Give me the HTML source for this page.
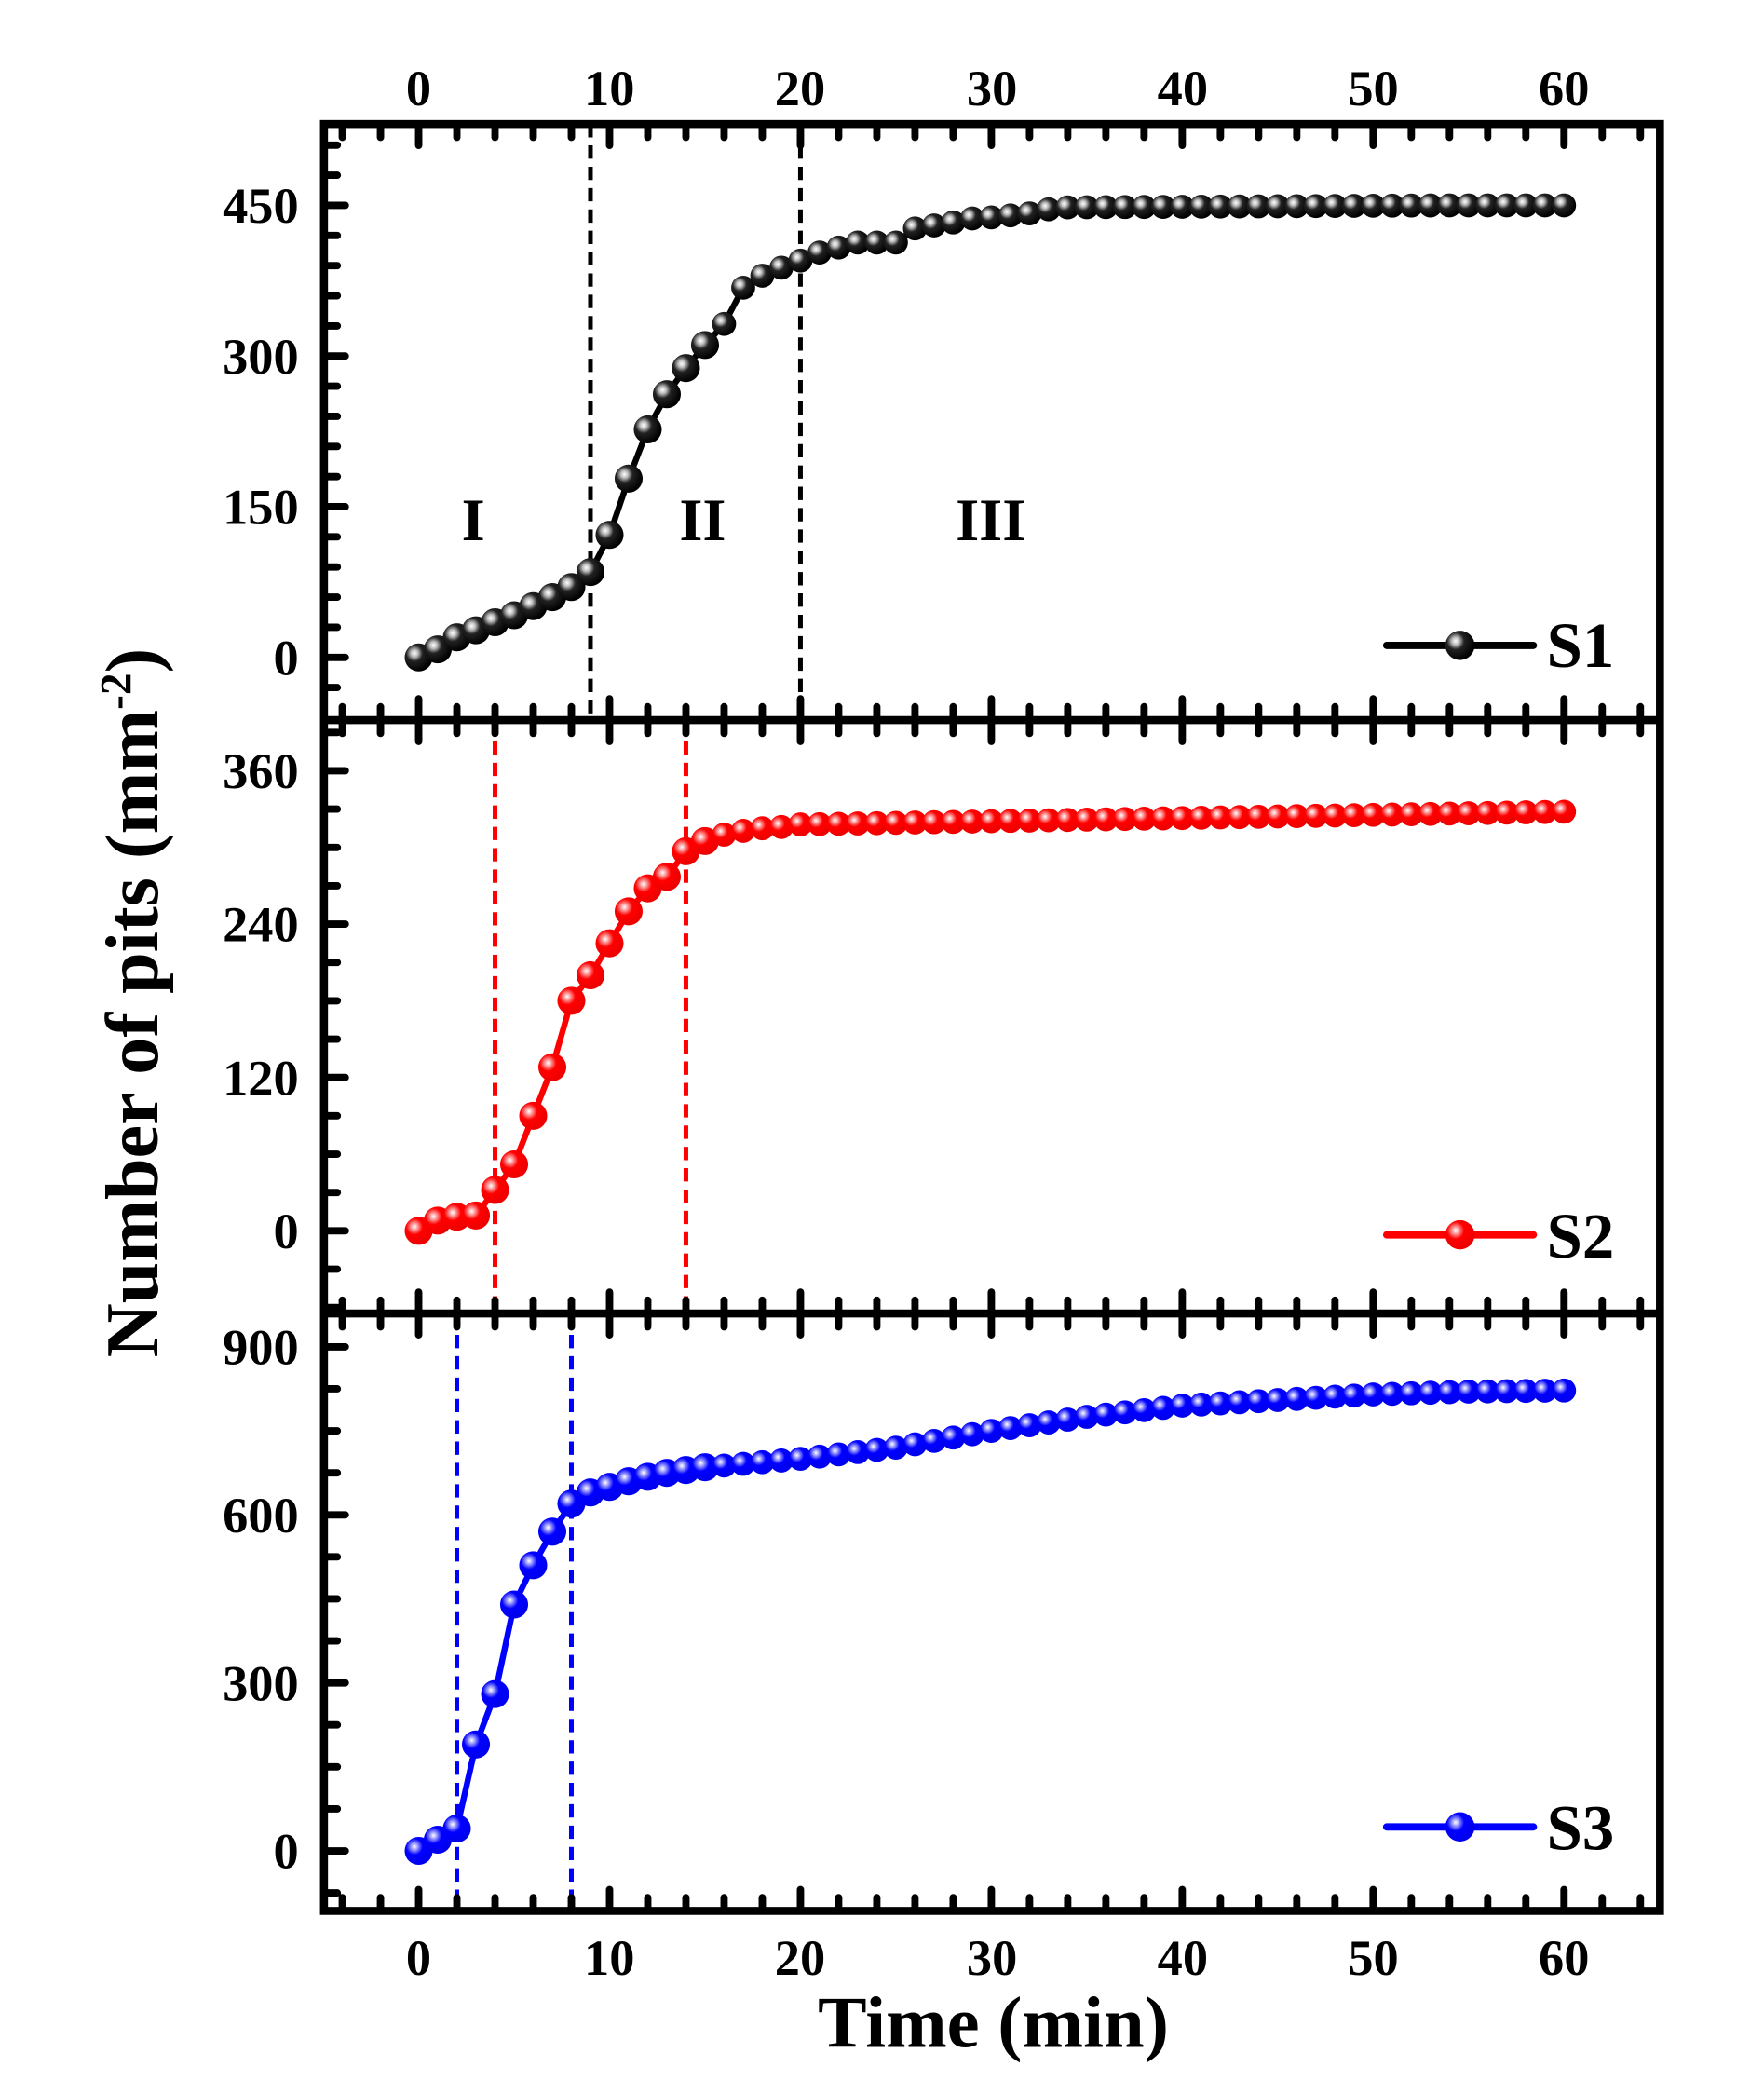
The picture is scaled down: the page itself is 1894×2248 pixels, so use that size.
<!DOCTYPE html>
<html><head><meta charset="utf-8"><style>html,body{margin:0;padding:0;background:#fff}svg{display:block}</style></head>
<body>
<svg id="s" xmlns="http://www.w3.org/2000/svg" width="1894" height="2248" viewBox="0 0 1323 1570.3" preserveAspectRatio="none" font-family="Liberation Serif, serif" font-weight="bold">
<defs>
<radialGradient id="gk" cx="0.35" cy="0.35" r="0.65"><stop offset="0" stop-color="#fff"/><stop offset="0.2" stop-color="#bbb"/><stop offset="0.45" stop-color="#222"/><stop offset="1" stop-color="#000"/></radialGradient>
<radialGradient id="gr" cx="0.35" cy="0.35" r="0.65"><stop offset="0" stop-color="#fff"/><stop offset="0.2" stop-color="#ff9090"/><stop offset="0.45" stop-color="#f00"/><stop offset="1" stop-color="#e00"/></radialGradient>
<radialGradient id="gb" cx="0.35" cy="0.35" r="0.65"><stop offset="0" stop-color="#fff"/><stop offset="0.2" stop-color="#9090ff"/><stop offset="0.45" stop-color="#00f"/><stop offset="1" stop-color="#00e"/></radialGradient>
</defs>
<g id="g"></g>
<g font-size="38" text-anchor="middle">
<text x="314" y="79">0</text>
<text x="457" y="79">10</text>
<text x="600" y="79">20</text>
<text x="744" y="79">30</text>
<text x="887" y="79">40</text>
<text x="1030" y="79">50</text>
<text x="1173" y="79">60</text>
<text x="314" y="1481">0</text>
<text x="457" y="1481">10</text>
<text x="600" y="1481">20</text>
<text x="744" y="1481">30</text>
<text x="887" y="1481">40</text>
<text x="1030" y="1481">50</text>
<text x="1173" y="1481">60</text>
</g>
<text x="745" y="1535" font-size="55" text-anchor="middle">Time (min)</text>
<text transform="translate(118,752) rotate(-90)" font-size="56" text-anchor="middle">Number of pits (mm<tspan dy="-20" font-size="33">-2</tspan><tspan dy="20">)</tspan></text>
<text x="355" y="405" font-size="45" text-anchor="middle">I</text>
<text x="527" y="405" font-size="45" text-anchor="middle">II</text>
<text x="743" y="405" font-size="45" text-anchor="middle">III</text>
<text x="1160" y="500" font-size="48">S1</text>
<text x="1160" y="943" font-size="48">S2</text>
<text x="1160" y="1387" font-size="48">S3</text>
</svg>
<script>
var g=document.getElementById('g'),h='';
function X(t){return 314+t*14.317;}
var panels=[
 {top:93,bot:540,y0:493,k:339/450,ticks:[0,150,300,450],minor:30,col:'#000',grad:'gk',dash:[9,20],ly:484,
  d:[0,8,20,27,35,42,51,60,70,85,122,178,227,262,288,311,332,368,380,388,395,403,408,413,413,413,427,430,433,437,438,440,442,446,448]},
 {top:540,bot:985,y0:923,k:345/360,ticks:[0,120,240,360],minor:30,col:'#f00',grad:'gr',dash:[4,14],ly:926,
  d:[0,8,11,12,32,52,90,128,180,200,225,250,268,277,297,305,310,313,315,316,318]},
 {top:985,bot:1433,y0:1388,k:378/900,ticks:[0,300,600,900],minor:75,col:'#00f',grad:'gb',dash:[2,8],ly:1370,
  d:[0,20,40,190,280,440,510,570,620,640,650,660,668,675,680,685,688,691,694,697,700]}
];
var p0=panels[0].d;while(p0.length<61)p0.push(Math.min(450,448+(p0.length-34)*0.1));
var p1=panels[1].d;while(p1.length<61){var t=p1.length;p1.push(318+(t-20)*10/40);}
var p2=panels[2].d;var s3=[[20,700],[25,720],[30,750],[35,775],[40,795],[45,805],[50,815],[55,820],[60,822]];
while(p2.length<61){var t=p2.length;for(var i=0;i<s3.length-1;i++){if(t>=s3[i][0]&&t<=s3[i+1][0]){var f=(t-s3[i][0])/5;p2.push(s3[i][1]+f*(s3[i+1][1]-s3[i][1]));break;}}}
panels.forEach(function(p,pi){
 function Y(v){return p.y0-v*p.k;}
 for(var v=-300;v<=1000;v+=p.minor){var y=Y(v);if(y<=p.top+4||y>=p.bot-4)continue;
  var maj=p.ticks.indexOf(v)>=0;h+='<line x1="243" x2="'+(243+(maj?16:10))+'" y1="'+y+'" y2="'+y+'" stroke="#000" stroke-width="5.5" stroke-linecap="round"/>';}
 p.ticks.forEach(function(v){h+='<text x="224" y="'+(Y(v)+13)+'" font-size="38" text-anchor="end">'+v+'</text>';});
 p.dash.forEach(function(t){h+='<line x1="'+X(t)+'" x2="'+X(t)+'" y1="'+p.top+'" y2="'+p.bot+'" stroke="'+p.col+'" stroke-width="3.5" stroke-dasharray="10,6"/>';});
 var pts=p.d.map(function(v,i){return X(i)+','+Y(v);}).join(' ');
 h+='<polyline points="'+pts+'" fill="none" stroke="'+p.col+'" stroke-width="4.5"/>';
 p.d.forEach(function(v,i){h+='<circle cx="'+X(i)+'" cy="'+Y(v)+'" r="'+(i<16?10.5:9)+'" fill="url(#'+p.grad+')"/>';});
 h+='<line x1="1040" x2="1150" y1="'+p.ly+'" y2="'+p.ly+'" stroke="'+p.col+'" stroke-width="5.5" stroke-linecap="round"/>';
 h+='<circle cx="1095" cy="'+p.ly+'" r="11" fill="url(#'+p.grad+')"/>';
});
[93,540,985,1433].forEach(function(yb,bi){
 for(var t=-4;t<=64;t+=2){var x=X(t);if(x<=247||x>=1241)continue;var maj=(t%10==0);var L=maj?16:10;
  if(bi>0)h+='<line x1="'+x+'" x2="'+x+'" y1="'+yb+'" y2="'+(yb-L)+'" stroke="#000" stroke-width="5.5" stroke-linecap="round"/>';
  if(bi<3)h+='<line x1="'+x+'" x2="'+x+'" y1="'+yb+'" y2="'+(yb+L)+'" stroke="#000" stroke-width="5.5" stroke-linecap="round"/>';}
});
h+='<rect x="243" y="93" width="1002" height="1340" fill="none" stroke="#000" stroke-width="6"/>';
h+='<line x1="243" x2="1245" y1="540" y2="540" stroke="#000" stroke-width="6"/>';
h+='<line x1="243" x2="1245" y1="985" y2="985" stroke="#000" stroke-width="6"/>';
g.innerHTML=h;
</script>
</body></html>
